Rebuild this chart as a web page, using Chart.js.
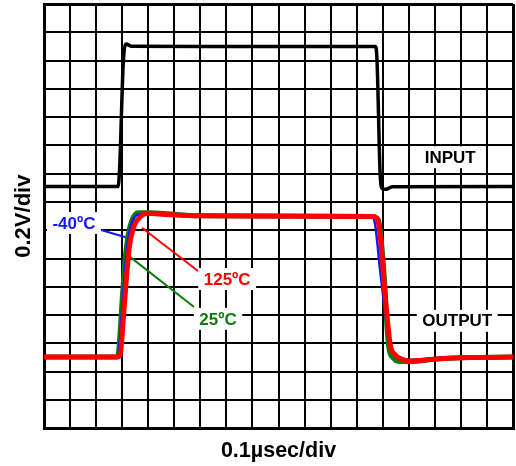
<!DOCTYPE html>
<html>
<head>
<meta charset="utf-8">
<script src="https://cdn.jsdelivr.net/npm/chart.js@4.4.1/dist/chart.umd.min.js"></script>
<style>
  body { margin: 0; background: #fff; }
  #wrap { width: 516px; height: 466px; }
</style>
</head>
<body>
<div id="wrap"><canvas id="scope" width="516" height="466"></canvas></div>
<script>
// scope grid: 18 x 15 divisions, values read in divisions //
var xDivs = 18;
var yDivs = 15;

var inputX = [0, 2.84, 2.90, 3.03, 3.08, 3.15, 3.34, 6.0, 12.67, 12.72, 12.78, 12.90, 12.98, 13.13, 13.36, 18];
var inputY = [8.55, 8.55, 9.14, 12.67, 13.38, 13.59, 13.51, 13.5, 13.5, 13.5, 13.03, 9.03, 8.48, 8.45, 8.54, 8.55];

var redX = [0, 2.80, 2.92, 3.07, 3.19, 3.30, 3.46, 3.69, 3.99, 4.65, 5.99, 12.60, 12.79, 12.90, 13.09, 13.29, 13.48, 13.71, 14.02, 15.05, 16.36, 18];
var redY = [2.52, 2.52, 2.59, 4.19, 5.60, 6.56, 7.16, 7.47, 7.60, 7.56, 7.51, 7.49, 7.40, 6.84, 4.72, 2.95, 2.60, 2.45, 2.38, 2.45, 2.50, 2.52];

var greenX = [0, 2.80, 2.84, 3.00, 3.11, 3.23, 3.38, 3.61, 4.07, 5.99, 12.60, 12.83, 12.94, 13.09, 13.17, 13.25, 13.40, 13.67, 14.06, 15.05, 16.36, 18];
var greenY = [2.52, 2.52, 2.56, 4.54, 5.95, 6.84, 7.37, 7.62, 7.62, 7.51, 7.49, 7.37, 6.70, 4.90, 3.48, 2.77, 2.49, 2.36, 2.36, 2.45, 2.50, 2.52];

var blueX = [0, 2.80, 2.88, 3.00, 3.11, 3.23, 3.38, 3.61, 4.07, 5.99, 12.60, 12.71, 12.90, 13.13, 13.29, 13.44, 13.67, 14.06, 15.05, 16.36, 18];
var blueY = [2.52, 2.52, 2.77, 4.19, 5.60, 6.67, 7.30, 7.55, 7.56, 7.51, 7.49, 7.19, 5.60, 3.83, 2.95, 2.59, 2.45, 2.42, 2.47, 2.50, 2.52];

// callouts //
var tagText = ["INPUT", "OUTPUT", "-40ºC", "125ºC", "25ºC"];
var tagColor = ["#000000", "#000000", "#1515ff", "#ff0000", "#0a7d0a"];
var tagX = [15.59, 15.86, 1.15, 7.03, 6.68];
var tagY = [9.58, 3.8, 7.26, 5.28, 3.87];

var leadColor = ["#1515ff", "#ff0000", "#0a7d0a"];
var leadX = [[2.19, 3.23], [3.76, 5.91], [3.30, 5.76]];
var leadY = [[7.01, 6.73], [7.09, 5.56], [6.06, 4.29]];

function pts(xs, ys) {
    var out = [];
    for (var i = 0; i < xs.length; i++) out.push({x: xs[i], y: ys[i]});
    return out;
}

var datasets = [];
for (var k = 0; k < leadX.length; k++) {
    datasets.push({
        data: pts(leadX[k], leadY[k]), borderColor: leadColor[k], borderWidth: 2,
        pointRadius: 0, showLine: true, order: 10
    });
}
datasets.push({data: pts(inputX, inputY), borderColor: "#000", borderWidth: 3.5, pointRadius: 0, showLine: true, cubicInterpolationMode: "monotone", order: 4});
datasets.push({data: pts(greenX, greenY), borderColor: "#0a7d0a", borderWidth: 5, pointRadius: 0, showLine: true, cubicInterpolationMode: "monotone", order: 3});
datasets.push({data: pts(blueX, blueY), borderColor: "#1515ff", borderWidth: 2.5, pointRadius: 0, showLine: true, cubicInterpolationMode: "monotone", order: 2});
datasets.push({data: pts(redX, redY), borderColor: "#ff0000", borderWidth: 5, pointRadius: 0, showLine: true, cubicInterpolationMode: "monotone", order: 1});

var tagPlugin = {
    id: "tags",
    afterDatasetsDraw: function(chart) {
        var ctx = chart.ctx, xs = chart.scales.x, ys = chart.scales.y;
        ctx.save();
        ctx.font = "bold 17px 'Liberation Sans', Arial, sans-serif";
        ctx.textAlign = "center";
        ctx.textBaseline = "middle";
        for (var i = 0; i < tagText.length; i++) {
            var cx = xs.getPixelForValue(tagX[i]);
            var cy = ys.getPixelForValue(tagY[i]);
            var w = ctx.measureText(tagText[i]).width + 11;
            ctx.fillStyle = "#fff";
            ctx.fillRect(cx - w / 2, cy - 11, w, 22);
            ctx.fillStyle = tagColor[i];
            ctx.fillText(tagText[i], cx, cy + 1);
        }
        ctx.restore();
    }
};

function frameWidth(max) {
    return function(c) { return (c.tick && (c.tick.value === 0 || c.tick.value === max)) ? 3 : 2; };
}

var ctx = document.getElementById("scope").getContext("2d");
var chart = new Chart(ctx, {
    type: "scatter",
    data: {datasets: datasets},
    plugins: [tagPlugin],
    options: {
        responsive: false,
        animation: false,
        layout: {padding: {top: 4, right: 3, left: 0, bottom: 0}},
        plugins: {legend: {display: false}, tooltip: {enabled: false}},
        scales: {
            x: {
                type: "linear", min: 0, max: xDivs,
                ticks: {display: false, stepSize: 1},
                grid: {color: "#000", lineWidth: frameWidth(xDivs), drawTicks: false},
                border: {color: "#000", width: 3},
                title: {display: true, text: "0.1µsec/div", color: "#000",
                        font: {family: "'Liberation Sans', Arial, sans-serif", size: 21.5, weight: "bold"},
                        padding: {top: 9.8, bottom: 2.1}}
            },
            y: {
                type: "linear", min: 0, max: yDivs,
                ticks: {display: false, stepSize: 1},
                grid: {color: "#000", lineWidth: frameWidth(yDivs), drawTicks: false},
                border: {color: "#000", width: 3},
                title: {display: true, text: "0.2V/div", color: "#000",
                        font: {family: "'Liberation Sans', Arial, sans-serif", size: 22, weight: "bold"},
                        padding: {top: 10.8, bottom: 6.8}}
            }
        }
    }
});
</script>
</body>
</html>
